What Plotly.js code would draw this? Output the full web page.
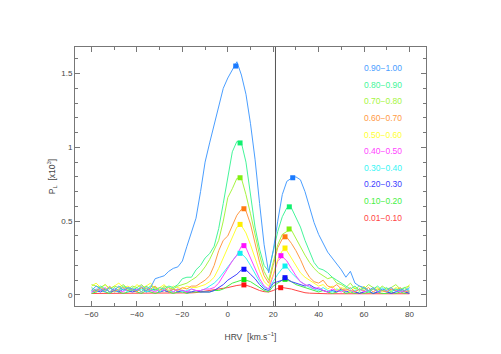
<!DOCTYPE html>
<html>
<head>
<meta charset="utf-8">
<script src="https://cdn.plot.ly/plotly-3.0.1.min.js"></script>
<style>
  html, body { margin: 0; padding: 0; background: #fff; }
  #chart { width: 501px; height: 354px; }
</style>
</head>
<body>
<div id="chart"></div>
<script>
// HRV grid, km/s
const hrv = [-60,-58,-56,-54,-52,-50,-48,-46,-44,-42,-40,-38,-36,-34,-32,-30,-28,-26,-24,-22,
  -20,-18,-16,-14,-12,-10,-8,-6,-4,-2,0,2,4,6,8,10,12,14,16,18,
  20,22,24,26,28,30,32,34,36,38,40,42,44,46,48,50,52,54,56,58,
  60,62,64,66,68,70,72,74,76,78,80];

const binLabels = ['0.90\u22121.00','0.80\u22120.90','0.70\u22120.80','0.60\u22120.70','0.50\u22120.60',
  '0.40\u22120.50','0.30\u22120.40','0.20\u22120.30','0.10\u22120.20','0.01\u22120.10'];

const s90 = [0.03,0.06,0.04,0.02,0.05,0.03,0.06,0.03,0.05,0.04,
  0.03,0.06,0.03,0.05,0.11,0.12,0.13,0.16,0.18,0.19,
  0.23,0.33,0.43,0.52,0.70,0.90,1.03,1.15,1.29,1.40,
  1.47,1.53,1.58,1.49,1.36,1.16,0.92,0.62,0.34,0.15,
  0.30,0.50,0.68,0.77,0.79,0.80,0.78,0.70,0.60,0.49,
  0.41,0.35,0.29,0.25,0.21,0.17,0.12,0.16,0.08,0.06,
  0.05,0.03,0.05,0.02,0.04,0.03,0.05,0.02,0.04,0.03,0.05];
const s80 = [0.05,0.03,0.06,0.04,0.02,0.05,0.03,0.06,0.04,0.03,
  0.05,0.02,0.06,0.04,0.03,0.05,0.04,0.06,0.05,0.07,
  0.11,0.12,0.12,0.17,0.20,0.25,0.28,0.33,0.45,0.62,
  0.80,0.97,1.04,1.03,0.90,0.69,0.46,0.31,0.20,0.16,
  0.30,0.43,0.53,0.59,0.59,0.52,0.46,0.37,0.29,0.22,
  0.18,0.17,0.15,0.12,0.10,0.08,0.06,0.04,0.06,0.03,
  0.05,0.02,0.04,0.06,0.03,0.05,0.02,0.04,0.03,0.05,0.02];
const s70 = [0.07,0.06,0.05,0.07,0.04,0.06,0.05,0.07,0.04,0.06,
  0.05,0.07,0.04,0.06,0.05,0.03,0.06,0.05,0.04,0.06,
  0.07,0.08,0.10,0.12,0.15,0.19,0.24,0.30,0.37,0.50,
  0.66,0.72,0.79,0.79,0.68,0.55,0.40,0.27,0.16,0.10,
  0.22,0.34,0.41,0.43,0.44,0.38,0.32,0.27,0.22,0.18,
  0.15,0.13,0.11,0.12,0.08,0.07,0.05,0.08,0.04,0.06,
  0.04,0.07,0.05,0.03,0.06,0.04,0.05,0.07,0.04,0.05,0.06];
const s60 = [0.04,0.02,0.05,0.03,0.06,0.02,0.04,0.05,0.03,0.04,
  0.02,0.05,0.03,0.04,0.06,0.03,0.05,0.02,0.04,0.03,
  0.05,0.04,0.06,0.06,0.08,0.10,0.13,0.20,0.30,0.37,
  0.40,0.47,0.54,0.58,0.57,0.48,0.35,0.22,0.13,0.08,
  0.20,0.32,0.38,0.39,0.35,0.30,0.24,0.17,0.12,0.09,
  0.08,0.10,0.06,0.05,0.07,0.04,0.03,0.05,0.02,0.04,
  0.03,0.05,0.02,0.04,0.03,0.02,0.04,0.03,0.05,0.02,0.03];
const s50 = [0.06,0.08,0.05,0.07,0.04,0.06,0.08,0.05,0.06,0.04,
  0.07,0.05,0.06,0.08,0.04,0.05,0.07,0.03,0.06,0.05,
  0.04,0.06,0.05,0.05,0.06,0.07,0.09,0.12,0.18,0.25,
  0.31,0.38,0.46,0.47,0.42,0.34,0.25,0.16,0.09,0.06,
  0.14,0.24,0.30,0.30,0.25,0.20,0.15,0.12,0.10,0.08,
  0.06,0.07,0.04,0.06,0.03,0.05,0.04,0.02,0.05,0.03,
  0.06,0.03,0.04,0.05,0.02,0.04,0.03,0.05,0.04,0.03,0.07];
const s40 = [0.02,0.04,0.03,0.05,0.02,0.04,0.03,0.02,0.05,0.03,
  0.04,0.02,0.05,0.03,0.02,0.04,0.03,0.05,0.02,0.04,
  0.03,0.02,0.04,0.03,0.03,0.04,0.04,0.05,0.08,0.13,
  0.18,0.23,0.27,0.33,0.32,0.25,0.18,0.11,0.06,0.04,
  0.13,0.23,0.26,0.23,0.18,0.13,0.09,0.07,0.06,0.04,
  0.05,0.03,0.02,0.04,0.03,0.02,0.04,0.03,0.02,0.04,
  0.02,0.03,0.04,0.02,0.03,0.02,0.04,0.03,0.02,0.03,0.02];
const s30 = [0.03,0.02,0.04,0.03,0.05,0.02,0.03,0.04,0.02,0.05,
  0.03,0.04,0.02,0.03,0.05,0.02,0.04,0.03,0.02,0.04,
  0.02,0.03,0.04,0.03,0.03,0.04,0.06,0.08,0.11,0.15,
  0.19,0.23,0.27,0.28,0.25,0.20,0.14,0.09,0.05,0.04,
  0.09,0.14,0.18,0.19,0.15,0.12,0.09,0.07,0.05,0.04,
  0.03,0.05,0.03,0.02,0.04,0.03,0.05,0.02,0.03,0.04,
  0.03,0.02,0.04,0.03,0.05,0.02,0.03,0.04,0.02,0.03,0.04];
const s20 = [0.02,0.03,0.02,0.04,0.02,0.03,0.02,0.04,0.03,0.02,
  0.03,0.05,0.02,0.03,0.04,0.02,0.03,0.02,0.04,0.02,
  0.03,0.02,0.02,0.03,0.02,0.02,0.02,0.03,0.05,0.07,
  0.10,0.12,0.14,0.17,0.17,0.14,0.11,0.07,0.04,0.03,
  0.08,0.09,0.10,0.11,0.09,0.08,0.07,0.06,0.07,0.05,
  0.04,0.03,0.02,0.03,0.02,0.04,0.02,0.03,0.02,0.01,
  0.02,0.03,0.01,0.02,0.03,0.02,0.01,0.02,0.03,0.02,0.01];
const s10 = [0.01,0.02,0.03,0.02,0.01,0.03,0.02,0.01,0.02,0.03,
  0.02,0.01,0.03,0.02,0.01,0.02,0.03,0.02,0.01,0.02,
  0.02,0.01,0.02,0.02,0.02,0.02,0.02,0.03,0.03,0.04,
  0.06,0.08,0.09,0.10,0.10,0.09,0.07,0.05,0.03,0.02,
  0.06,0.08,0.10,0.10,0.09,0.07,0.06,0.05,0.04,0.03,
  0.02,0.03,0.02,0.01,0.02,0.03,0.01,0.02,0.01,0.02,
  0.01,0.02,0.01,0.02,0.01,0.01,0.02,0.01,0.02,0.01,0.02];
const s01 = [0.01,0.01,0.01,0.01,0.01,0.01,0.01,0.01,0.01,0.01,
  0.01,0.01,0.01,0.01,0.01,0.01,0.01,0.01,0.01,0.01,
  0.01,0.012,0.014,0.016,0.02,0.025,0.03,0.035,0.04,0.045,
  0.05,0.058,0.064,0.068,0.066,0.056,0.042,0.03,0.022,0.02,
  0.03,0.044,0.05,0.046,0.04,0.031,0.022,0.015,0.012,0.01,
  0.008,0.008,0.008,0.008,0.008,0.008,0.008,0.008,0.008,0.008,
  0.008,0.008,0.008,0.008,0.008,0.008,0.008,0.008,0.008,0.008,0.008];

// peak markers (left and right component)
const peakLX = [3.5, 5.4, 5.4, 7.1, 5.4, 7.1, 5.4, 7.1, 7.1, 7.1];
const peakLY = [1.551, 1.03, 0.794, 0.584, 0.478, 0.334, 0.282, 0.174, 0.104, 0.068];
const peakRX = [28.6, 27.1, 27.0, 25.2, 25.2, 23.4, 25.2, 25.2, 25.2, 23.3];
const peakRY = [0.794, 0.597, 0.447, 0.394, 0.318, 0.266, 0.196, 0.117, 0.106, 0.049];

const sunVel = 21; // vertical reference line

const series = [s90, s80, s70, s60, s50, s40, s30, s20, s10, s01];
const lineColors = ['#4a9eff','#45f59a','#a6f542','#ff9a45','#ffff33','#ff45ff','#38f5f5','#4040ff','#45f045','#ff4545'];
const markColors = ['#1a7aff','#10f070','#80f010','#ff7a10','#ffee00','#ff10ff','#10f0f0','#1010ff','#10e010','#ff1010'];

const traces = [];
for (let i = series.length - 1; i >= 0; i--) {
    traces.push({
        x: hrv, y: series[i], type: 'scatter', mode: 'lines',
        line: { color: lineColors[i], width: 1 }, hoverinfo: 'none'
    });
}
for (let i = series.length - 1; i >= 0; i--) {
    traces.push({
        x: [peakLX[i], peakRX[i]], y: [peakLY[i], peakRY[i]],
        type: 'scatter', mode: 'markers',
        marker: { symbol: 'square', size: 5, color: markColors[i] }, hoverinfo: 'none'
    });
}

const annotations = binLabels.map((t, i) => ({
    text: t, xref: 'paper', yref: 'paper', x: 0.818, y: 0.918 - i * 0.0641,
    xanchor: 'left', yanchor: 'middle', showarrow: false,
    font: { size: 8.5, color: lineColors[i], family: 'Liberation Sans, Arial, sans-serif' }
}));

const axisCommon = {
    showline: true, linecolor: '#777', linewidth: 1, mirror: 'ticks',
    ticks: 'inside', ticklen: 5, tickcolor: '#777', showgrid: false, zeroline: false,
    tickfont: { size: 8, color: '#444' }
};

const layout = {
    width: 501, height: 354,
    margin: { l: 75, r: 75, t: 47, b: 48 },
    showlegend: false,
    paper_bgcolor: '#fff', plot_bgcolor: '#fff',
    font: { family: 'Liberation Sans, Arial, sans-serif', color: '#444' },
    xaxis: Object.assign({}, axisCommon, {
        range: [-67.3, 87.3], tickmode: 'linear', tick0: -60, dtick: 20,
        minor: { dtick: 10, ticks: 'inside', ticklen: 3, tickcolor: '#777' },
        title: { text: 'HRV  [km.s<sup>\u22121</sup>]', font: { size: 8.5, color: '#444' }, standoff: 16 }
    }),
    yaxis: Object.assign({}, axisCommon, {
        range: [-0.075, 1.68], tickmode: 'linear', tick0: 0, dtick: 0.5,
        minor: { dtick: 0.1, ticks: 'inside', ticklen: 3, tickcolor: '#777' },
        title: { text: 'P<sub>L</sub>  [x10<sup>3</sup>]', font: { size: 8.5, color: '#444' }, standoff: 4 }
    }),
    shapes: [{
        type: 'line', xref: 'x', yref: 'paper', x0: sunVel, x1: sunVel, y0: 0, y1: 1,
        line: { color: '#555', width: 1 }
    }],
    annotations: annotations
};

Plotly.newPlot('chart', traces, layout, { displayModeBar: false, staticPlot: true });
</script>
</body>
</html>
